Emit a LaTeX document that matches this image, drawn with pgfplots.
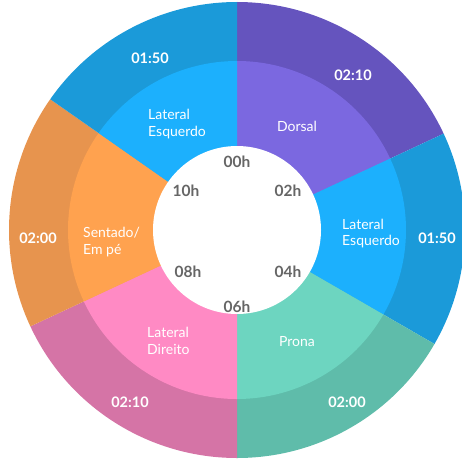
\documentclass[border=0pt]{standalone}
\usepackage{pgfplots}
\usepackage{pgfplotstable}
\pgfplotsset{compat=1.18}
\usepackage{fontspec}
\setmainfont{Lato}
\definecolor{in0}{HTML}{7B68E0}
\definecolor{in1}{HTML}{1CB0FD}
\definecolor{in2}{HTML}{6DD5C0}
\definecolor{in3}{HTML}{FF8AC4}
\definecolor{in4}{HTML}{FFA24F}
\definecolor{in5}{HTML}{1CB0FD}
\definecolor{out0}{HTML}{6554BE}
\definecolor{out1}{HTML}{1B9AD9}
\definecolor{out2}{HTML}{5FBCAA}
\definecolor{out3}{HTML}{D574A6}
\definecolor{out4}{HTML}{E7944E}
\definecolor{out5}{HTML}{1B9AD9}
\definecolor{hourgray}{HTML}{666666}
% durations (minutes) of each position, clockwise from 00h
\pgfplotstableread{
minutes
130
110
120
130
120
110
}\durations
% build the sector drawing commands from the table
\def\outerR{228}
\def\midR{169}
\def\holeR{84}
\def\cum{0}
\def\outersectors{}
\def\innersectors{}
\pgfplotsforeachungrouped \i in {0,...,5}{%
  \pgfplotstablegetelem{\i}{minutes}\of\durations
  \let\d\pgfplotsretval
  \pgfmathsetmacro{\a}{90-\cum*0.5}%
  \pgfmathsetmacro{\b}{90-(\cum+\d)*0.5}%
  \pgfmathsetmacro{\cum}{\cum+\d}%
  \xdef\outersectors{\outersectors
    \noexpand\fill[out\i] (axis cs:0,0) -- ++(\a:\outerR pt) arc[start angle=\a, end angle=\b, radius=\outerR pt] -- cycle;}%
  \xdef\innersectors{\innersectors
    \noexpand\fill[in\i] (axis cs:0,0) -- ++(\a:\midR pt) arc[start angle=\a, end angle=\b, radius=\midR pt] -- cycle;}%
}
\begin{document}
\begin{tikzpicture}
\begin{axis}[x=1pt,y=1pt,xmin=-237,xmax=225,ymin=-229,ymax=230,
  hide axis, clip=true]
\addplot[draw=none,forget plot] coordinates {(-237,-229) (225,230)};
\outersectors
\innersectors
\fill[white] (axis cs:0,0) circle[radius=\holeR pt];
% hours
\begin{scope}[every node/.style={font=\fontsize{15.5}{18}\selectfont\bfseries, text=hourgray}]
\node at (axis cs:0,68) {00h};
\node at (axis cs:51,39) {02h};
\node at (axis cs:51,-42) {04h};
\node at (axis cs:0,-77) {06h};
\node at (axis cs:-49,-42) {08h};
\node at (axis cs:-51,39) {10h};
\end{scope}
% positions
\begin{scope}[every node/.style={font=\fontsize{14}{16.5}\selectfont, text=white, align=left, inner sep=0pt}]
\node at (axis cs:60,104) {Dorsal};
\node[anchor=west] at (axis cs:-89,106) {Lateral\\Esquerdo};
\node[anchor=west] at (axis cs:105,-3.5) {Lateral\\Esquerdo};
\node at (axis cs:60,-112) {Prona};
\node[anchor=west] at (axis cs:-90,-111) {Lateral\\Direito};
\node[anchor=west] at (axis cs:-154,-12) {Sentado/\\Em pé};
\end{scope}
% durations
\begin{scope}[every node/.style={font=\fontsize{14.5}{17}\selectfont\bfseries, text=white}]
\node at (axis cs:-87,172) {01:50};
\node at (axis cs:116,155) {02:10};
\node at (axis cs:200,-8) {01:50};
\node at (axis cs:110,-172) {02:00};
\node at (axis cs:-107,-172) {02:10};
\node at (axis cs:-199,-8) {02:00};
\end{scope}
\end{axis}
\end{tikzpicture}
\end{document}
